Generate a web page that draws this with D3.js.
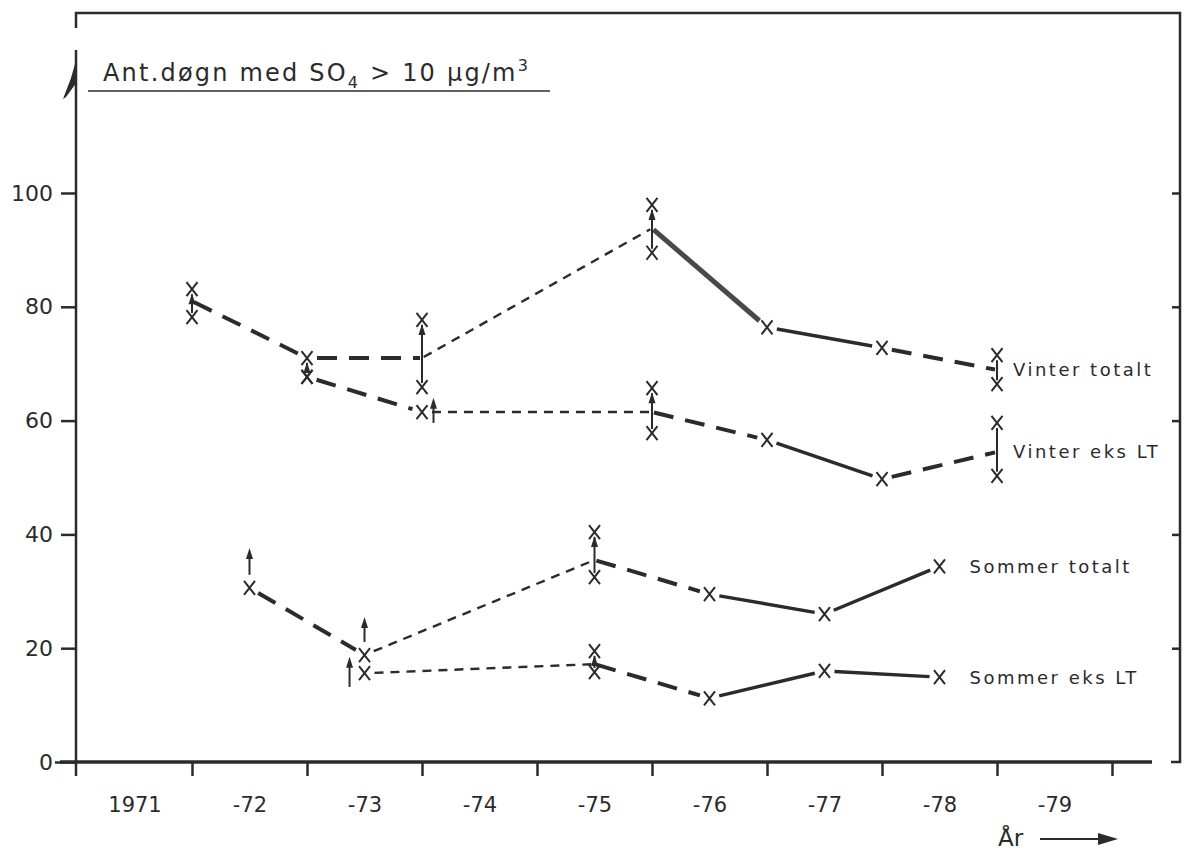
<!DOCTYPE html>
<html lang="no">
<head>
<meta charset="UTF-8">
<title>Ant. døgn med SO4 over 10 µg/m3</title>
<script src="https://d3js.org/d3.v7.min.js"></script>
<style>
    body { margin: 0; background: #fff; }
    svg { display: block; }
    text { font-family: "DejaVu Sans", sans-serif; fill: #2b2b2b; }
    .tick-y { font-size: 22px; }
    .tick-x { font-size: 21px; }
    .series-label { font-size: 18px; letter-spacing: 2.5px; }
    .title { font-size: 24px; letter-spacing: 2.2px; }
</style>
</head>
<body>
<svg id="chart" width="1184" height="853"></svg>
<script>
    // ---- data ----
    const yearLabels = ["1971", "-72", "-73", "-74", "-75", "-76", "-77", "-78", "-79"]
    const yTicks = [0, 20, 40, 60, 80, 100]

    const vinterYears = [1972, 1973, 1974, 1976, 1977, 1978, 1979]
    const vinterTotalt = [81, 71, 71, 93.8, 76.4, 72.8, 68.9]
    const vinterTotaltLo = [78.2, 67.7, 65.9, 89.5, null, null, 66.4]
    const vinterTotaltHi = [83.1, 71, 77.7, 97.9, null, null, 71.5]
    const vinterTotaltStyle = ["dash", "dash", "dot", "thick", "solid", "dash"]

    const vinterEksYears = [1973, 1974, 1976, 1977, 1978, 1979]
    const vinterEks = [67.7, 61.5, 61.5, 56.6, 49.7, 54.5]
    const vinterEksLo = [null, null, 57.8, null, null, 50.3]
    const vinterEksHi = [null, null, 65.7, null, null, 59.6]
    const vinterEksStyle = ["dash", "dot", "dash", "solid", "dash"]

    const sommerYears = [1972.5, 1973.5, 1975.5, 1976.5, 1977.5, 1978.5]
    const sommerTotalt = [30.6, 18.8, 35.5, 29.5, 26, 34.4]
    const sommerTotaltLo = [null, null, 32.5, null, null, null]
    const sommerTotaltHi = [null, null, 40.4, null, null, null]
    const sommerTotaltStyle = ["dash", "dot", "dash", "solid", "solid"]

    const sommerEksYears = [1973.5, 1975.5, 1976.5, 1977.5, 1978.5]
    const sommerEks = [15.6, 17.2, 11.2, 16, 14.9]
    const sommerEksLo = [null, 15.8, null, null, null]
    const sommerEksHi = [null, 19.5, null, null, null]
    const sommerEksStyle = ["dot", "dash", "solid", "solid"]

    // single "at least" arrows
    const arrowYears = [1972.5, 1973.5, 1973.37, 1974.1]
    const arrowFrom = [32.9, 21.1, 13.2, 59.6]
    const arrowTo = [37.6, 25.5, 18.5, 64]

    const seriesNames = ["Vinter totalt", "Vinter eks LT", "Sommer totalt", "Sommer eks LT"]
    const noArrowYear = 1979

    // ---- setup ----
    const ink = "#2b2b2b"
    const svg = d3.select("#chart")
    const x = d3.scaleLinear().domain([1971, 1980]).range([77, 1112])
    const y = d3.scaleLinear().domain([0, 100]).range([762, 193])

    const lineStyles = {
        dash: {w: 4, dash: "20,12", color: ink},
        dot: {w: 2.4, dash: "9,7", color: ink},
        solid: {w: 3.4, dash: null, color: ink},
        thick: {w: 5, dash: null, color: "#4a4a4a"}
    }

    const defs = svg.append("defs")
    defs.append("filter").attr("id", "soft")
        .append("feGaussianBlur").attr("stdDeviation", 0.7)

    // ---- frame and axes ----
    const frame = svg.append("g").attr("stroke", ink).attr("fill", "none")
    frame.append("path").attr("stroke-width", 2.5)
        .attr("d", "M76,28 L76,13 L1180,13 L1180,762 L1171,762")
    frame.append("path").attr("stroke-width", 2.5)
        .attr("d", "M76,50 L76,776")
    // little break mark on the y axis
    frame.append("path").attr("stroke", "none").attr("fill", ink)
        .attr("d", "M63,99 L71,78 L75,64 L77,64 L77,82 L66,97 Z")

    // left axis ticks + labels
    const yAxis = svg.append("g")
        .attr("transform", "translate(76,0)")
        .call(d3.axisLeft(y).tickValues(yTicks).tickSize(15).tickPadding(8))
    yAxis.select(".domain").remove()
    yAxis.selectAll("line").attr("stroke", ink).attr("stroke-width", 2.5)
    yAxis.selectAll("text").attr("class", "tick-y").attr("fill", ink)
        .style("font-family", "DejaVu Sans, sans-serif")
    yAxis.selectAll(".tick").filter(d => d === 0).select("line").attr("x2", -21)

    // right border ticks
    const rAxis = svg.append("g")
        .attr("transform", "translate(1180,0)")
        .call(d3.axisRight(y).tickValues(yTicks.filter(d => d > 0)).tickSize(-8).tickFormat(""))
    rAxis.select(".domain").remove()
    rAxis.selectAll("line").attr("stroke", ink).attr("stroke-width", 2.5)

    // bottom axis: thick base line, year boundary ticks, year labels in between
    svg.append("line").attr("x1", 60).attr("x2", 1152)
        .attr("y1", y(0)).attr("y2", y(0))
        .attr("stroke", ink).attr("stroke-width", 3.5)
    const boundaries = d3.range(1972, 1981)
    const xTicks = svg.append("g")
        .attr("transform", `translate(0,${y(0)})`)
        .call(d3.axisBottom(x).tickValues(boundaries).tickSize(14).tickFormat(""))
    xTicks.select(".domain").remove()
    xTicks.selectAll("line").attr("stroke", ink).attr("stroke-width", 2.5)

    const labelYears = yearLabels.map((d, i) => 1971.5 + i)
    const xLabels = svg.append("g")
        .attr("transform", `translate(0,${y(0)})`)
        .call(d3.axisBottom(x).tickValues(labelYears).tickSize(0).tickPadding(35)
            .tickFormat((d, i) => yearLabels[i]))
    xLabels.select(".domain").remove()
    xLabels.selectAll("text").attr("class", "tick-x").attr("fill", ink)
        .style("font-family", "DejaVu Sans, sans-serif")

    // "År" with arrow
    svg.append("text").attr("x", 998).attr("y", 846).attr("font-size", 23).text("År")
    svg.append("line").attr("x1", 1040).attr("x2", 1100).attr("y1", 839).attr("y2", 839)
        .attr("stroke", ink).attr("stroke-width", 2)
    svg.append("path").attr("d", "M1118,839 L1098,833 L1098,845 Z").attr("fill", ink)

    // title with underline
    const title = svg.append("text").attr("class", "title").attr("x", 103).attr("y", 81)
    title.append("tspan").text("Ant.døgn med SO")
    title.append("tspan").attr("font-size", 16).attr("dy", 7).text("4")
    title.append("tspan").attr("dy", -7).text(" > 10 µg/m")
    title.append("tspan").attr("font-size", 16).attr("dy", -10).text("3")
    svg.append("line").attr("x1", 88).attr("x2", 550).attr("y1", 91).attr("y2", 91)
        .attr("stroke", ink).attr("stroke-width", 1.6)

    // ---- series ----
    const series = [
        {name: seriesNames[0], years: vinterYears, vals: vinterTotalt, lo: vinterTotaltLo, hi: vinterTotaltHi, style: vinterTotaltStyle, labelDx: 16},
        {name: seriesNames[1], years: vinterEksYears, vals: vinterEks, lo: vinterEksLo, hi: vinterEksHi, style: vinterEksStyle, labelDx: 16},
        {name: seriesNames[2], years: sommerYears, vals: sommerTotalt, lo: sommerTotaltLo, hi: sommerTotaltHi, style: sommerTotaltStyle, labelDx: 30},
        {name: seriesNames[3], years: sommerEksYears, vals: sommerEks, lo: sommerEksLo, hi: sommerEksHi, style: sommerEksStyle, labelDx: 30}
    ]

    const marks = svg.append("g")

    function xMark(px, py) {
        marks.append("path")
            .attr("d", `M${px - 5.5},${py - 7}L${px + 5.5},${py + 7}M${px + 5.5},${py - 7}L${px - 5.5},${py + 7}`)
            .attr("stroke", ink).attr("stroke-width", 2).attr("fill", "none")
    }

    function arrowHead(px, tip) {
        marks.append("path")
            .attr("d", `M${px},${tip} L${px - 3.5},${tip + 11} L${px + 3.5},${tip + 11} Z`)
            .attr("fill", ink)
    }

    function trimOf(s, i) {
        const v = s.vals[i], lo = s.lo[i], hi = s.hi[i]
        if (lo != null && v > lo && v < hi) return 2
        return 10
    }

    series.forEach(s => {
        // segments
        for (let i = 0; i < s.years.length - 1; i++) {
            let x1 = x(s.years[i]), y1 = y(s.vals[i])
            let x2 = x(s.years[i + 1]), y2 = y(s.vals[i + 1])
            const len = Math.hypot(x2 - x1, y2 - y1)
            const a = trimOf(s, i) / len, b = trimOf(s, i + 1) / len
            const st = lineStyles[s.style[i]]
            const ln = marks.append("line")
                .attr("x1", x1 + (x2 - x1) * a).attr("y1", y1 + (y2 - y1) * a)
                .attr("x2", x2 - (x2 - x1) * b).attr("y2", y2 - (y2 - y1) * b)
                .attr("stroke", st.color).attr("stroke-width", st.w)
                .attr("stroke-linecap", "butt")
            if (st.dash) ln.attr("stroke-dasharray", st.dash)
            if (s.style[i] === "thick") ln.attr("filter", "url(#soft)")
        }
        // points and ranges
        s.years.forEach((yr, i) => {
            const px = x(yr)
            if (s.lo[i] != null) {
                const yl = y(s.lo[i]), yh = y(s.hi[i])
                marks.append("line").attr("x1", px).attr("x2", px)
                    .attr("y1", yl - 4).attr("y2", yh + 5)
                    .attr("stroke", ink).attr("stroke-width", 2)
                if (yr !== noArrowYear) arrowHead(px, yh + 4)
                xMark(px, yl)
                xMark(px, yh)
            } else {
                xMark(px, y(s.vals[i]))
            }
        })
        // label at the end
        const last = s.years.length - 1
        svg.append("text").attr("class", "series-label")
            .attr("x", x(s.years[last]) + s.labelDx)
            .attr("y", y(s.vals[last]))
            .attr("dy", "0.35em")
            .text(s.name)
    })

    // "at least" arrows
    arrowYears.forEach((yr, i) => {
        const px = x(yr)
        marks.append("line").attr("x1", px).attr("x2", px)
            .attr("y1", y(arrowFrom[i])).attr("y2", y(arrowTo[i]) + 6)
            .attr("stroke", ink).attr("stroke-width", 2)
        arrowHead(px, y(arrowTo[i]))
    })
</script>
</body>
</html>
